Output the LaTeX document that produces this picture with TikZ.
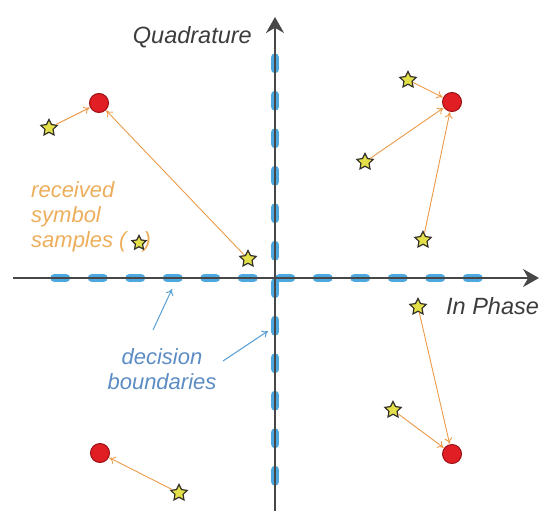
\documentclass[tikz,border=0pt]{standalone}
\usepackage{fontspec}
\setmainfont{Liberation Sans}
\usetikzlibrary{shapes.geometric,arrows.meta}
\definecolor{axisgray}{HTML}{474747}
\definecolor{dashblue}{HTML}{4DA8E0}
\definecolor{labelgray}{HTML}{3C3C3C}
\definecolor{textorange}{HTML}{EDAE5C}
\definecolor{arroworange}{HTML}{EC9A48}
\definecolor{textblue}{HTML}{5C8CC4}
\definecolor{arrowblue}{HTML}{5AA0D4}
\definecolor{dotred}{HTML}{E01E24}
\definecolor{dotedge}{HTML}{9A1014}
\definecolor{staryellow}{HTML}{E4E04A}
\tikzset{
  refpt/.style={circle,fill=dotred,draw=dotedge,line width=1pt,minimum size=19pt,inner sep=0pt},
  sample/.style={star,star points=5,star point ratio=2.0,fill=staryellow,draw=black!85!olive,line width=1.2pt,minimum size=17pt,inner sep=0pt},
  errarrow/.style={draw=arroworange,line width=0.9pt,-{To[length=6pt,width=8pt]},shorten >=0.5pt},
  boundary/.style={draw=dashblue,line width=8.5pt,line cap=round,dash pattern=on 11.5pt off 26pt},
  axisline/.style={draw=axisgray,line width=1.6pt},
  lbl/.style={font=\fontsize{22}{25}\selectfont\itshape,inner sep=0pt},
  axlbl/.style={font=\fontsize{23.5}{26}\selectfont\itshape,inner sep=0pt,text=labelgray},
  note/.style={draw=arrowblue,line width=1pt,-{To[length=6pt,width=8pt]}}
}
\begin{document}
\begin{tikzpicture}[x=1pt,y=-1pt]
\useasboundingbox (0,0) rectangle (545,511);
% decision boundaries (dashed)
\coordinate (hb1) at (54.5,278);
\coordinate (hb2) at (483,278);
\coordinate (vb1) at (275,57.5);
\coordinate (vb2) at (275,487);
\draw[boundary] (hb1) -- (hb2);
\draw[boundary] (vb1) -- (vb2);
% axes
\coordinate (xa) at (13,278);
\coordinate (xb) at (539,278);
\coordinate (ya) at (275,511);
\coordinate (yb) at (275,17);
\draw[axisline,-{Stealth[length=16pt,width=18pt]}] (xa) -- (xb);
\draw[axisline,-{Stealth[length=16pt,width=18pt]}] (ya) -- (yb);
% axis labels
\node[axlbl,anchor=east] (qlab) at (252,37) {Quadrature};
\node[axlbl,anchor=west] (ilab) at (446,306) {In Phase};
% reference points
\node[refpt] (c1) at (99,103) {};
\node[refpt] (c2) at (452,102) {};
\node[refpt] (c3) at (452,454) {};
\node[refpt] (c4) at (100,453) {};
% samples
\node[sample] (s1) at (49,128) {};
\node[sample] (s2) at (248,259) {};
\node[sample] (s3) at (408,80) {};
\node[sample] (s4) at (365,162) {};
\node[sample] (s5) at (423,240) {};
\node[sample] (s6) at (418,307) {};
\node[sample] (s7) at (393,410) {};
\node[sample] (s8) at (179,493) {};
% error arrows
\draw[errarrow] (s1) -- (c1);
\draw[errarrow] (s2) -- (c1);
\draw[errarrow] (s3) -- (c2);
\draw[errarrow] (s4) -- (c2);
\draw[errarrow] (s5) -- (c2);
\draw[errarrow] (s6) -- (c3);
\draw[errarrow] (s7) -- (c3);
\draw[errarrow] (s8) -- (c4);
% legend text
\node[lbl,text=textorange,anchor=north west,align=left] (rlab) at (31,181) {received\\symbol\\samples (\hspace{17pt})};
\node[sample,minimum size=15pt] (lstar) at (139,243) {};
% decision boundaries label
\node[lbl,text=textblue,align=center] (dlab) at (162,369) {decision\\boundaries};
\coordinate (d1s) at (153,330);
\coordinate (d1e) at (172,289);
\coordinate (d2s) at (223,361);
\coordinate (d2e) at (268,331);
\draw[note] (d1s) -- (d1e);
\draw[note] (d2s) -- (d2e);
\end{tikzpicture}
\end{document}
